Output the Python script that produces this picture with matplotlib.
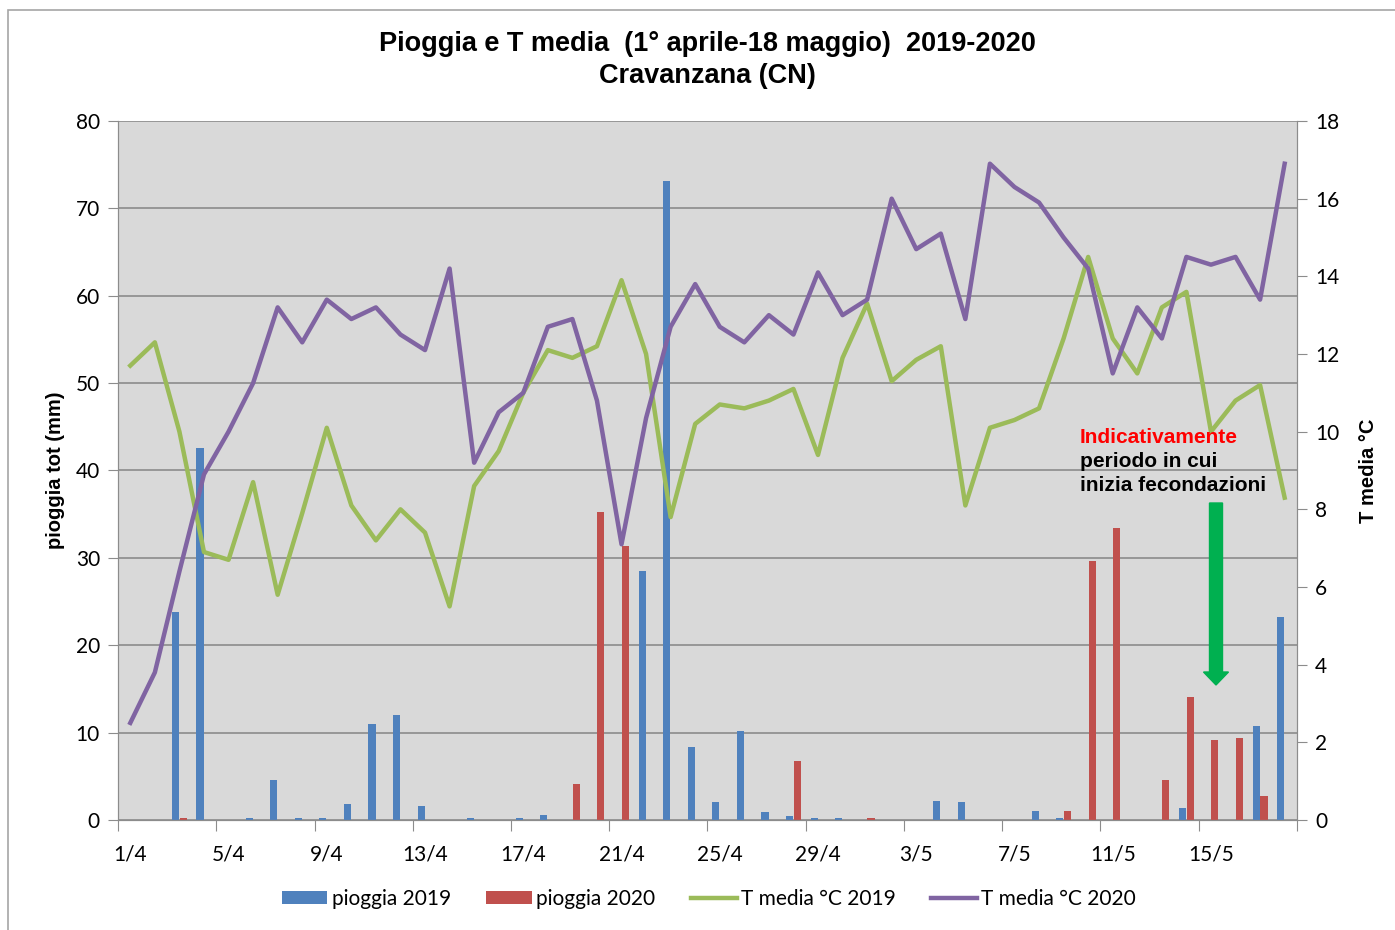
import matplotlib.pyplot as plt
import numpy as np
from matplotlib.patches import Rectangle, FancyArrow

# 1 aprile - 18 maggio
days = [f"{d}/4" for d in range(1, 31)] + [f"{d}/5" for d in range(1, 19)]

pioggia_2019 = [0, 0, 23.8, 42.6, 0, 0.2, 4.6, 0.2, 0.2, 1.8, 11.0, 12.0, 1.6, 0, 0.2, 0,
                0.2, 0.6, 0, 0, 0, 28.5, 73.1, 8.4, 2.1, 10.2, 0.9, 0.4, 0.2, 0.2, 0, 0,
                0, 2.2, 2.1, 0, 0, 1.0, 0.2, 0, 0, 0, 0, 1.4, 0, 0, 10.8, 23.2]
pioggia_2020 = [0, 0, 0.2, 0, 0, 0, 0, 0, 0, 0, 0, 0, 0, 0, 0, 0,
                0, 0, 4.1, 35.2, 31.4, 0, 0, 0, 0, 0, 0, 6.7, 0, 0, 0.2, 0,
                0, 0, 0, 0, 0, 0, 1.0, 29.6, 33.4, 0, 4.6, 14.1, 9.2, 9.4, 2.7, 0]
t_media_2019 = [11.7, 12.3, 10.0, 6.9, 6.7, 8.7, 5.8, 7.9, 10.1, 8.1, 7.2, 8.0, 7.4, 5.5, 8.6, 9.5,
                11.0, 12.1, 11.9, 12.2, 13.9, 12.0, 7.8, 10.2, 10.7, 10.6, 10.8, 11.1, 9.4, 11.9, 13.3, 11.3,
                11.85, 12.2, 8.1, 10.1, 10.3, 10.6, 12.4, 14.5, 12.4, 11.5, 13.2, 13.6, 10.0, 10.8, 11.2, 8.3]
t_media_2020 = [2.5, 3.8, 6.4, 8.9, 10.0, 11.25, 13.2, 12.3, 13.4, 12.9, 13.2, 12.5, 12.1, 14.2, 9.2, 10.5,
                11.0, 12.7, 12.9, 10.8, 7.1, 10.35, 12.7, 13.8, 12.7, 12.3, 13.0, 12.5, 14.1, 13.0, 13.4, 16.0,
                14.7, 15.1, 12.9, 16.9, 16.3, 15.9, 15.0, 14.2, 11.5, 13.2, 12.4, 14.5, 14.3, 14.5, 13.4, 16.9]

label_font = ['Lato', 'DejaVu Sans']
x = np.arange(len(days))

fig = plt.figure(figsize=(13.95, 9.3), dpi=100)
ax = fig.add_axes([0.0846, 0.1183, 0.8451, 0.7516])
ax2 = ax.twinx()

ax.set_facecolor('#D9D9D9')
ax.bar(x - 0.16, pioggia_2019, width=0.29, color='#4F81BD', label='pioggia 2019', zorder=2)
ax.bar(x + 0.16, pioggia_2020, width=0.29, color='#C0504D', label='pioggia 2020', zorder=2)
ax2.plot(x, t_media_2019, color='#9BBB59', lw=3.2, label='T media °C 2019')
ax2.plot(x, t_media_2020, color='#8064A2', lw=3.2, label='T media °C 2020')

ax.set_xlim(-0.5, len(days) - 0.5)
ax.set_ylim(0, 80)
ax.set_yticks(np.arange(0, 81, 10))
ax2.set_ylim(0, 18)
ax2.set_yticks(np.arange(0, 19, 2))
ax.grid(axis='y', color='#8C8C8C', lw=1.2)
ax.set_axisbelow(True)

# category axis: marks between days, labels every 4 days
ax.set_xticks(np.arange(-0.5, len(days), 4))
ax.set_xticklabels([])
ax.set_xticks(x[::4], minor=True)
ax.set_xticklabels(days[::4], minor=True, fontsize=15, family=label_font)
ax.tick_params(axis='x', which='major', length=8, color='#8C8C8C', direction='out')
ax.tick_params(axis='x', which='minor', length=0, pad=18)
ax.tick_params(axis='y', length=7, color='#8C8C8C', labelsize=15, pad=6)
ax2.tick_params(axis='y', length=7, color='#8C8C8C', labelsize=15, pad=6)
for lab in ax.get_yticklabels() + ax2.get_yticklabels():
    lab.set_family(label_font)

for a in (ax, ax2):
    a.spines['top'].set_visible(False)
    for s in ('left', 'right', 'bottom'):
        a.spines[s].set_color('#8C8C8C')

ax.set_ylabel('pioggia tot (mm)', fontsize=14.5, fontweight='bold', family='Liberation Sans', labelpad=8)
ax2.set_ylabel('T media °C', fontsize=14.5, fontweight='bold', family='Liberation Sans',
               rotation=90, labelpad=14)

fig.text(0.507, 0.9355, 'Pioggia e T media  (1° aprile-18 maggio)  2019-2020\nCravanzana (CN)',
         ha='center', va='center', fontsize=19.5, fontweight='bold', family='Liberation Sans',
         linespacing=1.3)

fig.text(1080 / 1395, 1 - 437 / 930, 'Indicativamente', color='#FF0000', fontsize=15,
         family='Liberation Sans', fontweight='bold', va='center', ha='left')
fig.text(1080 / 1395, 1 - 461 / 930, 'periodo in cui', color='black', fontsize=15,
         family='Liberation Sans', fontweight='bold', va='center', ha='left')
fig.text(1080 / 1395, 1 - 485 / 930, 'inizia fecondazioni', color='black', fontsize=15,
         family='Liberation Sans', fontweight='bold', va='center', ha='left')
fig.patches.append(FancyArrow(12.16, 4.27, 0, -1.82, width=0.13, head_width=0.25,
                              head_length=0.13, length_includes_head=True, color='#00B050',
                              transform=fig.dpi_scale_trans))

fig.patches.append(Rectangle((8 / 1395, -0.05), 1.1, 1 - 10 / 930 + 0.05, fill=False,
                             edgecolor='#A6A6A6', lw=1.2, transform=fig.transFigure))

h1, l1 = ax.get_legend_handles_labels()
h2, l2 = ax2.get_legend_handles_labels()
fig.legend(h1 + h2, l1 + l2, loc='center', bbox_to_anchor=(0.508, 1 - 899 / 930), ncol=4,
           frameon=False, prop={'family': label_font, 'size': 15}, handlelength=2.2,
           handleheight=0.6, handletextpad=0.2, columnspacing=1.7)

fig.savefig('out.png', dpi=100)
